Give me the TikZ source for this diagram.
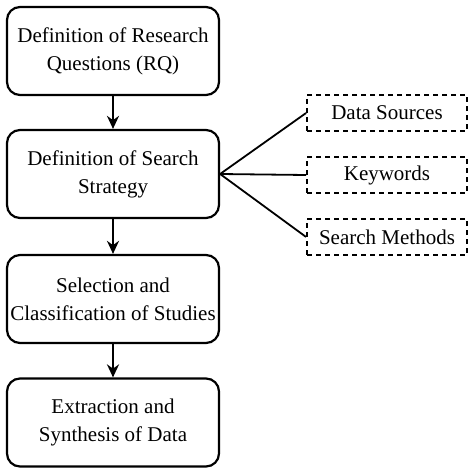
\documentclass[tikz,border=0pt]{standalone}
\usepackage{fontspec}
\setmainfont{Liberation Serif}
\usetikzlibrary{arrows.meta}
\begin{document}
\begin{tikzpicture}[x=1pt,y=-1pt,
  mainbox/.style={draw, line width=2.2pt, rounded corners=13pt, minimum width=212pt, minimum height=88pt, align=center, font=\fontsize{21}{28}\selectfont, inner sep=0pt},
  subbox/.style={draw, line width=1.8pt, dashed, dash pattern=on 5pt off 4pt, minimum width=160pt, minimum height=36pt, font=\fontsize{21}{26}\selectfont, inner sep=0pt},
  flow/.style={line width=2.2pt, -{Stealth[length=13pt,width=12pt]}},
  fan/.style={line width=1.8pt}]
\useasboundingbox (0,0) rectangle (474,476);
\node[mainbox] (rq) at (113,51) {Definition of Research\\Questions (RQ)};
\node[mainbox] (ss) at (113,174) {Definition of Search\\Strategy};
\node[mainbox] (sc) at (113,299) {Selection and\\Classification of Studies};
\node[mainbox] (ex) at (113,422.5) {Extraction and\\Synthesis of Data};
\node[subbox] (ds) at (387,113) {Data Sources};
\node[subbox] (kw) at (387,175) {Keywords};
\node[subbox] (sm) at (387,237) {Search Methods};
\draw[flow] (rq) -- (ss);
\draw[flow] (ss) -- (sc);
\draw[flow] (sc) -- (ex);
\draw[fan] (ss.east) -- (ds.west);
\draw[fan] (ss.east) -- (kw.west);
\draw[fan] (ss.east) -- (sm.west);
\end{tikzpicture}
\end{document}
